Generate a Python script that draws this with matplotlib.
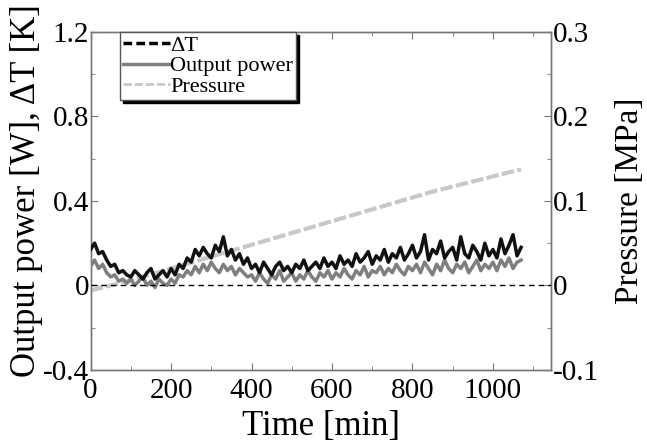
import matplotlib
matplotlib.use('Agg')
import matplotlib.pyplot as plt
from matplotlib.lines import Line2D
from matplotlib.ticker import MultipleLocator

plt.rcParams['font.family'] = ['Liberation Serif', 'DejaVu Serif']

# time [min], sampled every 10 min
time = [0, 10, 20, 30, 40, 50, 60, 70, 80, 90, 100, 110, 120, 130, 140, 150, 160, 170, 180, 190,
        200, 210, 220, 230, 240, 250, 260, 270, 280, 290, 300, 310, 320, 330, 340, 350, 360, 370, 380, 390,
        400, 410, 420, 430, 440, 450, 460, 470, 480, 490, 500, 510, 520, 530, 540, 550, 560, 570, 580, 590,
        600, 610, 620, 630, 640, 650, 660, 670, 680, 690, 700, 710, 720, 730, 740, 750, 760, 770, 780, 790,
        800, 810, 820, 830, 840, 850, 860, 870, 880, 890, 900, 910, 920, 930, 940, 950, 960, 970, 980, 990,
        1000, 1010, 1020, 1030, 1040, 1050, 1060, 1070]

# delta T [K]
dT = [0.17, 0.20, 0.15, 0.16, 0.12, 0.09, 0.10, 0.06, 0.07, 0.05, 0.04, 0.07, 0.05, 0.03, 0.06, 0.08, 0.03, 0.05, 0.07, 0.04,
      0.08, 0.05, 0.10, 0.08, 0.13, 0.11, 0.17, 0.14, 0.18, 0.15, 0.13, 0.19, 0.16, 0.23, 0.14, 0.17, 0.12, 0.15, 0.10, 0.13,
      0.08, 0.10, 0.06, 0.11, 0.08, 0.05, 0.09, 0.11, 0.07, 0.09, 0.06, 0.10, 0.08, 0.12, 0.07, 0.09, 0.11, 0.08, 0.13, 0.09,
      0.11, 0.08, 0.14, 0.10, 0.12, 0.09, 0.15, 0.11, 0.13, 0.16, 0.10, 0.14, 0.12, 0.17, 0.11, 0.15, 0.13, 0.18, 0.12, 0.15,
      0.19, 0.13, 0.16, 0.24, 0.12, 0.17, 0.15, 0.21, 0.13, 0.16, 0.18, 0.12, 0.23, 0.15, 0.13, 0.19, 0.16, 0.12, 0.20, 0.14,
      0.17, 0.13, 0.22, 0.15, 0.19, 0.24, 0.14, 0.18]

# output power [W]
power = [0.09, 0.12, 0.08, 0.10, 0.06, 0.04, 0.05, 0.02, 0.03, 0.01, 0.03, 0.00, 0.02, 0.04, 0.00, 0.02, -0.01, 0.03, 0.01, 0.00,
         0.03, 0.01, 0.05, 0.04, 0.07, 0.05, 0.09, 0.06, 0.10, 0.07, 0.11, 0.08, 0.06, 0.10, 0.07, 0.09, 0.05, 0.08, 0.06, 0.04,
         0.05, 0.02, 0.06, 0.03, 0.01, 0.05, 0.03, 0.07, 0.02, 0.04, 0.06, 0.02, 0.05, 0.03, 0.07, 0.04, 0.02, 0.06, 0.04, 0.07,
         0.03, 0.06, 0.04, 0.08, 0.05, 0.03, 0.07, 0.05, 0.09, 0.04, 0.07, 0.06, 0.09, 0.05, 0.08, 0.06, 0.10, 0.07, 0.05, 0.09,
         0.07, 0.10, 0.06, 0.11, 0.08, 0.05, 0.10, 0.07, 0.12, 0.08, 0.06, 0.10, 0.08, 0.11, 0.06, 0.09, 0.12, 0.07, 0.10, 0.08,
         0.11, 0.07, 0.12, 0.09, 0.13, 0.08, 0.11, 0.12]

# pressure [MPa]
p_time = [0, 50, 100, 150, 200, 250, 300, 350, 400, 450, 500, 550, 600, 650, 700, 750, 800, 850, 900, 950, 1000, 1050, 1070]
pressure = [-0.006, 0.000, 0.006, 0.013, 0.020, 0.027, 0.034, 0.041, 0.048, 0.055, 0.062, 0.069, 0.076, 0.083,
            0.090, 0.097, 0.104, 0.111, 0.117, 0.123, 0.129, 0.135, 0.137]

fig = plt.figure(figsize=(6.47, 4.43), dpi=100)
ax = fig.add_axes([0.140, 0.165, 0.712, 0.763])
ax2 = ax.twinx()

ax.plot(time, power, color='#7f7f7f', lw=2.5, zorder=3)
ax.plot(time, dT, color='#111111', lw=2.5, zorder=4)
ax.axhline(0, color='black', lw=1, ls=(0, (4, 3)), zorder=5)
ax2.plot(p_time, pressure, color='#c8c8c8', lw=3, ls=(0, (3, 0.8)))
ax.set_zorder(ax2.get_zorder() + 1)
ax.patch.set_visible(False)

ax.set_xlim(0, 1145)
ax.set_ylim(-0.4, 1.2)
ax2.set_ylim(-0.1, 0.3)
ax.xaxis.set_major_locator(MultipleLocator(200))
ax.xaxis.set_minor_locator(MultipleLocator(100))
ax.yaxis.set_minor_locator(MultipleLocator(0.2))
ax2.yaxis.set_minor_locator(MultipleLocator(0.05))

ax.set_yticks([-0.4, 0, 0.4, 0.8, 1.2])
ax.set_yticklabels(['-0.4', '0', '0.4', '0.8', '1.2'])
ax2.set_yticks([-0.1, 0, 0.1, 0.2, 0.3])
ax2.set_yticklabels(['-0.1', '0', '0.1', '0.2', '0.3'])

for a in (ax, ax2):
    for s in a.spines.values():
        s.set_color('#777777')
        s.set_linewidth(1)
    a.tick_params(which='both', direction='in', colors='#777777', labelcolor='black',
                  labelsize=21, pad=1)
    a.tick_params(which='major', length=5)
    a.tick_params(which='minor', length=3)
ax.tick_params(axis='x', which='both', top=True, pad=6)

ax.set_xlabel('Time [min]', fontsize=25, labelpad=4)
ax.set_ylabel('Output power [W], ΔT [K]', fontsize=25)
ax.yaxis.set_label_coords(-0.103, 0.53)
ax2.set_ylabel('Pressure [MPa]', fontsize=24)
ax2.yaxis.set_label_coords(1.138, 0.50)

handles = [Line2D([], [], color='black', lw=2.5, ls=(0, (2.5, 1.2))),
           Line2D([], [], color='#7f7f7f', lw=2.5),
           Line2D([], [], color='#c8c8c8', lw=2, ls=(0, (3, 1)))]
leg = ax.legend(handles, ['ΔT', 'Output power', 'Pressure'], loc='upper left',
                bbox_to_anchor=(0.064, 1.0), fontsize=16, frameon=True, fancybox=False,
                shadow={'color': 'black', 'alpha': 1}, edgecolor='#555555', framealpha=1,
                handlelength=2.1, handletextpad=0.0, borderpad=0.15, labelspacing=0.0,
                borderaxespad=0.0)
leg.get_frame().set_linewidth(1)

fig.savefig('out.png', dpi=100)
